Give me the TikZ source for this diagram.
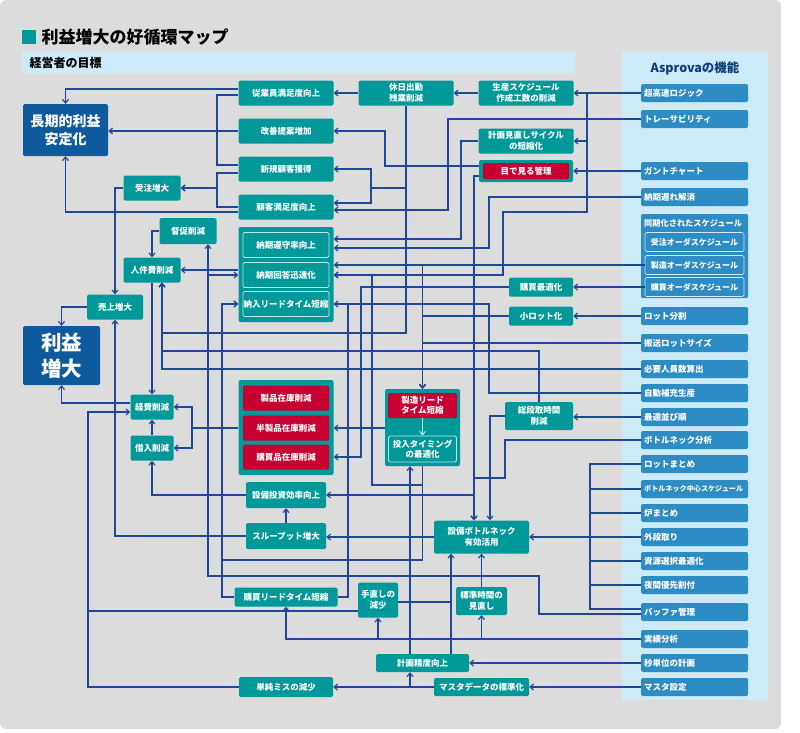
\documentclass[tikz,border=0pt]{standalone}
\usepackage{fontspec}
\setmainfont{Noto Sans CJK JP}
\usetikzlibrary{arrows.meta,positioning}
\definecolor{bggray}{HTML}{DCDCDC}
\definecolor{teal0}{HTML}{009898}
\definecolor{goalblue}{HTML}{0F5A9C}
\definecolor{redbox}{HTML}{C80032}
\definecolor{aspblue}{HTML}{2E8CC4}
\definecolor{panel}{HTML}{CCEAF8}
\definecolor{wireblue}{HTML}{1E4896}
\definecolor{navy}{HTML}{0D3C78}

\begin{document}
\begin{tikzpicture}[x=1pt,y=-1pt,
  >={Straight Barb[length=3.5pt,width=6pt]},
  wire/.style={draw=wireblue,line width=1.15pt},
  tbox/.style={fill=teal0,text=white,rounded corners=1.5pt,inner sep=0pt,align=center,
    font=\bfseries\fontsize{8.5}{10.5}\selectfont,minimum width=95pt,minimum height=25pt},
  ibox/.style={tbox,draw=white!75!teal0,line width=.8pt,minimum width=86pt},
  rbox/.style={tbox,fill=redbox,minimum width=86pt},
  grp/.style={fill=teal0,rounded corners=2pt,inner sep=0pt},
  goal/.style={fill=goalblue,text=white,rounded corners=1.5pt,inner sep=0pt,align=center},
  abox/.style={fill=aspblue,text=white,anchor=west,rounded corners=1.5pt,minimum height=18pt,
    text width=101pt,inner xsep=3pt,inner ysep=0pt,align=left,font=\bfseries\fontsize{8.5}{10}\selectfont},
  sbox/.style={draw=white!80!aspblue,line width=.7pt,fill=aspblue,text=white,rounded corners=1.5pt,
    minimum width=99pt,minimum height=19pt,inner sep=0pt,font=\bfseries\fontsize{8}{10}\selectfont}]
\useasboundingbox (0,0) rectangle (800,732);
\fill[bggray,rounded corners=6pt] (0,0) rectangle (781,729);

% title and panels
\fill[teal0] (22,30) rectangle (36,44);
\node[anchor=west,font=\bfseries\fontsize{17}{20}\selectfont] (title) at (38,37) {利益増大の好循環マップ};
\fill[panel] (22,52) rectangle (575,73);
\node[anchor=west,font=\bfseries\fontsize{12}{14}\selectfont] (goals) at (26,63) {経営者の目標};
\fill[panel] (622,52) rectangle (768,700);
\node[font=\bfseries\fontsize{12.5}{14}\selectfont,text=navy] (asptitle) at (695,68) {Asprovaの機能};

% Asprova functions
\foreach \n/\y/\t in {logic/93/超高速ロジック,trace/119/トレーサビリティ,gantt/171/ガントチャート,
  chien/197/納期遅れ解消,lotbun/316/ロット分割,hansou/343/搬送ロットサイズ,jinin/369/必要人員数算出,
  hojuu/393/自動補充生産,narabi/417/最適並び順,bnbunseki/440/ボトルネック分析,lotmatome/464/ロットまとめ,
  bnchuushin/489/{\fontsize{7.1}{8}\selectfont ボトルネック中心スケジュール},ro/513/炉まとめ,
  sotodan/537/外段取り,shigen/561/資源選択最適化,yakan/585/夜間優先割付,buffer/612/バッファ管理,
  jisseki/639/実績分析,byou/663/秒単位の計画,mastersettei/687/マスタ設定}
  \node[abox] (\n) at (641,\y) {\t};
\node[fill=aspblue,rounded corners=1.5pt,minimum width=107pt,minimum height=84pt,inner sep=0pt] (douki) at (694.5,256) {};
\node[anchor=west,text=white,inner sep=0pt,font=\bfseries\fontsize{8.2}{10}\selectfont] (doukit) at (644,223) {同期化されたスケジュール};
\node[sbox] (ju) at (694.5,242) {受注オーダスケジュール};
\node[sbox] (sei) at (694.5,265) {製造オーダスケジュール};
\node[sbox] (kou) at (694.5,287) {購買オーダスケジュール};

% goals
\node[goal,minimum width=85pt,minimum height=52pt,font=\bfseries\fontsize{14}{18}\selectfont] (chouki) at (65.5,130) {長期的利益\\安定化};
\node[goal,minimum width=77pt,minimum height=59pt,font=\bfseries\fontsize{20.5}{26}\selectfont] (rieki) at (61.5,355.5) {利益\\増大};

% management side
\node[tbox] (juugyou) at (286,93) {従業員満足度向上};
\node[tbox] (kaizen) at (286,131) {改善提案増加};
\node[tbox] (shinki) at (286,169) {新規顧客獲得};
\node[tbox] (kokyaku) at (286,207) {顧客満足度向上};
\node[tbox] (kyuujitsu) at (406,93) {休日出勤\\残業削減};
\node[tbox] (sakusei) at (526,93) {生産スケジュール\\作成工数の削減};
\node[tbox] (minaoshi) at (526,141) {計画見直しサイクル\\の短縮化};
\node[grp,minimum width=94pt,minimum height=22pt] (mierukaF) at (526,171) {};
\node[rbox,minimum width=86pt,minimum height=16pt] (mieru) at (526,171) {目で見る管理};
\node[tbox,minimum width=57pt] (juchuu) at (152,188) {受注増大};
\node[tbox,minimum width=57pt,minimum height=26pt] (tokusoku) at (188,231) {督促削減};
\node[tbox,minimum width=57pt] (jinken) at (152,270) {人件費削減};
\node[tbox,minimum width=56pt] (uriage) at (115,307) {売上増大};
\node[tbox,minimum width=43pt] (keihi) at (152,407) {経費削減};
\node[tbox,minimum width=43pt] (kariire) at (152,448) {借入削減};

\node[grp,minimum width=95pt,minimum height=95pt] (noukiG) at (286,274.5) {};
\node[ibox] (noukiA) at (286,245) {納期遵守率向上};
\node[ibox] (noukiB) at (286,275) {納期回答迅速化};
\node[ibox] (nounyuu) at (286,304) {納入リードタイム短縮};
\node[grp,minimum width=95pt,minimum height=95pt] (zaikoG) at (286,427.5) {};
\node[rbox] (seihin) at (286,398) {製品在庫削減};
\node[rbox] (hanseihin) at (286,428) {半製品在庫削減};
\node[rbox] (koubaihin) at (286,457) {購買品在庫削減};
\node[tbox,minimum width=80pt,minimum height=26pt] (setsubiT) at (286,495) {設備投資効率向上};
\node[tbox,minimum width=80pt,minimum height=26pt] (through) at (286,536) {スループット増大};
\node[tbox,minimum width=103pt,minimum height=19pt] (koubaiLT) at (286,597) {購買リードタイム短縮};
\node[tbox,minimum width=94pt,minimum height=20pt] (tanjun) at (286,687) {単純ミスの減少};

\node[tbox,minimum width=64pt,minimum height=19pt] (koubaiS) at (541,287) {購買最適化};
\node[tbox,minimum width=64pt,minimum height=19pt] (shoulot) at (541,316) {小ロット化};
\node[grp,minimum width=75pt,minimum height=77pt] (seizouG) at (422.5,427.5) {};
\node[rbox,minimum width=69pt] (seizou) at (422.5,405.5) {製造リード\\タイム短縮};
\node[ibox,minimum width=68pt,minimum height=26pt] (tounyuu) at (422.5,449) {投入タイミング\\の最適化};
\node[tbox,minimum width=68pt,minimum height=28pt] (dandori) at (539,416) {総段取時間\\削減};
\node[tbox,minimum width=95pt,minimum height=33pt] (bottle) at (481.5,537) {設備ボトルネック\\有効活用};
\node[tbox,minimum width=40pt,minimum height=35pt] (tenaoshi) at (378,600) {手直しの\\減少};
\node[tbox,minimum width=51pt,minimum height=28pt] (hyoujun) at (481.5,601) {標準時間の\\見直し};
\node[tbox,minimum width=93pt,minimum height=18pt] (keikakuS) at (422.5,663) {計画精度向上};
\node[tbox,minimum width=95pt,minimum height=18pt] (master) at (481.5,687) {マスタデータの標準化};

% connectors
\draw[wire,->] (kyuujitsu.west) -- (juugyou.east);
\draw[wire,->] (sakusei.west) -- (kyuujitsu.east);
\draw[wire,->] (logic.west) -- (sakusei.east);
\draw[wire,->] (logic.west) -- (587,93) |- (minaoshi.east);
\draw[wire,->] (logic.west) -- (587,93) -- (587,212) -- (503,212) |- (noukiG.east |- noukiB);
\draw[wire,->] (trace.west) -- (448,119) |- (kokyaku.east |- 0,210);
\draw[wire,->] (gantt.west) -- (mierukaF.east);
\draw[wire,->] (chien.west) -- (489,197) |- (noukiG.east |- 0,248);
\draw[wire,->] (minaoshi.west) -- (461,141) |- (noukiG.east |- 0,239);
\draw[wire,->] (mierukaF.west |- 0,166) -- (385,166) |- (kaizen.east);
\draw[wire,->] (mierukaF.west |- 0,176) -- (474,176) -- (bottle.north -| 474,0);
\draw[wire,->] (mierukaF.west |- 0,176) -- (474,176) |- (setsubiT.east);
\draw[wire,->] (kyuujitsu.south) -- (406,333) -- (162,333) -- (jinken.south -| 162,0);
\draw[wire,->] (kyuujitsu.south) -- (406,188) -- (371,188) |- (shinki.east);
\draw[wire,->] (kyuujitsu.south) -- (406,188) -- (371,188) |- (kokyaku.east |- 0,203);
\draw[wire,->] (sei.west) -- (noukiG.east |- sei);
\draw[wire,->] (sei.west) -| (seizouG.north);
\draw[wire,->] (kou.west) -- (koubaiS.east);
\draw[wire,->] (koubaiS.west) -- (361,287) |- (zaikoG.east |- koubaihin);
\draw[wire,->] (lotbun.west) -- (shoulot.east);
\draw[wire,->] (shoulot.west) -| (seizouG.north);
\draw[wire,->] (hansou.west) -| (seizouG.north);
\draw[wire,->] (jinin.west) -| (jinken.south -| 162,0);
\draw[wire,->] (dandori.north) |- (162,351) -- (jinken.south -| 162,0);
\draw[wire,->] (hojuu.west) -- (489,393) |- (noukiG.east |- nounyuu);
\draw[wire,->] (narabi.west) -- (narabi.west -| dandori.east);
\draw[wire,->] (dandori.west) -| (bottle.north -| 490,0);
\draw[wire,->] (bnbunseki.west) -- (505,440) -- (505,478) -- (474,478) -- (bottle.north -| 474,0);
\foreach \n in {lotmatome,bnchuushin,ro,shigen,yakan}
  \draw[wire] (\n.west) -| (590,537);
\draw[wire] (buffer.west |- 0,609) -| (590,537);
\draw[wire,->] (sotodan.west) -- (bottle.east |- sotodan);
\draw[wire,->] (buffer.west |- 0,614) -- (539,614) -- (539,576) -| (tokusoku.south -| 208,0);
\draw[wire,->] (buffer.west |- 0,614) -- (539,614) -- (539,576) -- (208,576) |- (noukiG.west |- noukiB);
\draw[wire,->] (bottle.west) -- (bottle.west -| through.east);
\draw[wire,->] (through.west) -| (uriage.south);
\draw[wire,->] (through.north) -- (setsubiT.south);
\draw[wire,->] (setsubiT.west) -| (kariire.south);
\draw[wire,->] (kariire.north) -- (keihi.south);
\draw[wire,->] (jinken.south) -- (keihi.north);
\draw[wire,->] (zaikoG.west |- hanseihin) -- (192,428) |- (keihi.east);
\draw[wire,->] (zaikoG.west |- hanseihin) -- (192,428) |- (kariire.east);
\draw[wire,->] (keihi.west |- 0,403) -| (rieki.south);
\draw[wire,->] (uriage.west) -| (rieki.north);
\draw[wire,->] (juchuu.west) -| (uriage.north);
\draw[wire,->] (tokusoku.west) -| (jinken.north);
\draw[wire,->] (noukiG.west |- jinken) -- (jinken.east);
\draw[wire,->] (shinki.west |- 0,173) -- (217,173) |- (juchuu.east);
\draw[wire,->] (kokyaku.west |- 0,207) -- (217,207) |- (juchuu.east);
\draw[wire,->] (juugyou.west |- 0,89) -| (chouki.north);
\draw[wire] (juugyou.west |- 0,95) -- (217,95) |- (shinki.west |- 0,165);
\draw[wire,->] (kaizen.west) -- (kaizen.west -| chouki.east);
\draw[wire,->] (kokyaku.west |- 0,212) -| (chouki.south);
\draw[wire,->] (seizouG.west |- hanseihin) -- (zaikoG.east |- hanseihin);
\draw[->,draw=white!75!teal0,line width=1pt] (seizou.south) -- (tounyuu.north);
\draw[wire,->] (seizouG.south) |- (222,560) |- (noukiG.west |- nounyuu);
\draw[wire,->] (seizouG.south) |- (372,485) |- (noukiG.east |- noukiB);
\draw[wire,->] (koubaiLT.west) -- (222,597) |- (noukiG.west |- nounyuu);
\draw[wire] (koubaiLT.east) -- (348,597) |- (noukiG.east |- nounyuu);
\draw[wire,->] (jisseki.west) -| (koubaiLT.south);
\draw[wire,->] (jisseki.west) -| (tenaoshi.south);
\draw[wire,->] (jisseki.west) -| (hyoujun.south);
\draw[wire,->] (byou.west) -- (keikakuS.east);
\draw[wire,->] (mastersettei.west) -- (master.east);
\draw[wire,->] (master.west) -- (tanjun.east);
\draw[wire,->] (master.west) -| (keikakuS.south -| 410,0);
\draw[wire,->] (keikakuS.north -| 410,0) -- (seizouG.south -| 410,0);
\draw[wire,->] (keikakuS.north -| 451,0) -- (bottle.south -| 451,0);
\draw[wire,->] (hyoujun.north) -- (bottle.south);
\draw[wire,->] (tanjun.west) -- (88,687) |- (keihi.west |- 0,412);
\draw[wire] (tenaoshi.west |- 0,611) -- (88,611);
\draw[wire] (tenaoshi.east |- 0,602) -- (451,602);
\end{tikzpicture}
\end{document}
